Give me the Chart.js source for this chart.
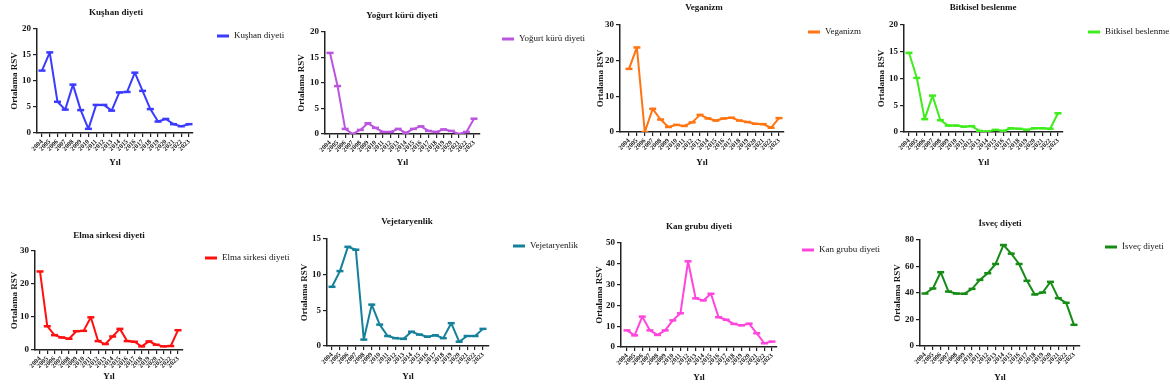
<!DOCTYPE html>
<html>
<head>
<meta charset="utf-8">
<script src="https://cdn.jsdelivr.net/npm/chart.js@4.4.1/dist/chart.umd.min.js"></script>
<style>
  html, body { margin: 0; padding: 0; background: #fff; }
  #wrap { position: relative; width: 1170px; height: 390px; }
  #wrap canvas { position: absolute; left: 0; top: 0; }
</style>
</head>
<body>
<div id="wrap"></div>
<script>
// data
const years = [2004, 2005, 2006, 2007, 2008, 2009, 2010, 2011, 2012, 2013,
               2014, 2015, 2016, 2017, 2018, 2019, 2020, 2021, 2022, 2023];

const kushan     = [12.0, 15.5, 6.0, 4.5, 9.3, 4.4, 0.8, 5.4, 5.4, 4.3, 7.8, 7.9, 11.6, 8.1, 4.6, 2.2, 2.7, 1.7, 1.3, 1.7];
const yogurt     = [15.9, 9.4, 1.0, 0.0, 0.8, 2.1, 1.2, 0.4, 0.4, 1.0, 0.2, 1.0, 1.5, 0.6, 0.4, 0.9, 0.6, 0.0, 0.4, 3.0];
const veganizm   = [17.7, 23.7, 0.0, 6.5, 3.5, 1.4, 2.0, 1.7, 2.7, 4.8, 3.8, 3.2, 3.8, 4.0, 3.2, 2.8, 2.3, 2.2, 1.2, 3.9];
const bitkisel   = [14.8, 10.1, 2.4, 6.8, 2.2, 1.2, 1.2, 1.0, 1.1, 0.2, 0.1, 0.4, 0.2, 0.7, 0.6, 0.4, 0.7, 0.7, 0.6, 3.5];
const elma       = [23.8, 7.2, 4.5, 3.8, 3.4, 5.7, 5.8, 9.9, 2.7, 1.8, 4.1, 6.4, 2.7, 2.5, 1.1, 2.6, 1.6, 1.1, 1.2, 6.0];
const vejetaryen = [8.3, 10.5, 13.9, 13.5, 0.9, 5.8, 3.0, 1.4, 1.1, 1.0, 2.0, 1.6, 1.3, 1.5, 1.1, 3.2, 0.6, 1.4, 1.4, 2.4];
const kanGrubu   = [8.0, 5.6, 14.6, 8.0, 5.8, 8.0, 12.8, 16.2, 41.2, 23.4, 22.4, 25.6, 14.3, 13.1, 11.1, 10.4, 11.2, 6.6, 1.8, 2.6];
const isvec      = [39.6, 43.4, 55.7, 41.1, 39.6, 39.4, 43.1, 49.9, 54.9, 61.9, 76.2, 69.7, 61.9, 49.2, 38.9, 40.4, 48.4, 36.1, 32.6, 16.0];

const seriesNames = ['Kuşhan diyeti', 'Yoğurt kürü diyeti', 'Veganizm', 'Bitkisel beslenme',
                     'Elma sirkesi diyeti', 'Vejetaryenlik', 'Kan grubu diyeti', 'İsveç diyeti'];
const seriesData  = [kushan, yogurt, veganizm, bitkisel, elma, vejetaryen, kanGrubu, isvec];
const yMaxes      = [20, 20, 30, 20, 30, 15, 50, 80];
const ySteps      = [5, 5, 10, 5, 10, 5, 10, 20];
const yTitle = 'Ortalama RSV';
const xTitle = 'Yıl';

// colours
const colors = ['#3b3bff', '#bb55e0', '#ff7410', '#3fec1c', '#ff1010', '#15809a', '#ff45dc', '#168c16'];

// where each panel sits on the page (px)
const layouts = [
  { axisX: 37,  top: 29,  bottom: 133, xFirst: 42,  xLast: 189,  axisEnd: 193,  yTitleX: 15,  yilY: 163, titleX: 116,  titleY: 13,  legX: 217,  legY: 36 },
  { axisX: 325, top: 32,  bottom: 134, xFirst: 330, xLast: 474,  axisEnd: 480,  yTitleX: 302, yilY: 163, titleX: 402,  titleY: 16,  legX: 502,  legY: 39 },
  { axisX: 620, top: 25,  bottom: 132, xFirst: 629, xLast: 779,  axisEnd: 784,  yTitleX: 601, yilY: 163, titleX: 704,  titleY: 8,   legX: 808,  legY: 32 },
  { axisX: 904, top: 25,  bottom: 132, xFirst: 909, xLast: 1058, axisEnd: 1063, yTitleX: 882, yilY: 163, titleX: 983,  titleY: 8,   legX: 1088, legY: 32 },
  { axisX: 35,  top: 251, bottom: 350, xFirst: 40,  xLast: 178,  axisEnd: 183,  yTitleX: 15,  yilY: 377, titleX: 109,  titleY: 236, legX: 205,  legY: 258 },
  { axisX: 327, top: 239, bottom: 346, xFirst: 332, xLast: 483,  axisEnd: 489,  yTitleX: 305, yilY: 377, titleX: 407,  titleY: 222, legX: 513,  legY: 246 },
  { axisX: 621, top: 243, bottom: 347, xFirst: 627, xLast: 772,  axisEnd: 777,  yTitleX: 600, yilY: 378, titleX: 699,  titleY: 227, legX: 802,  legY: 250 },
  { axisX: 920, top: 240, bottom: 346, xFirst: 925, xLast: 1074, axisEnd: 1080, yTitleX: 898, yilY: 378, titleX: 1000, titleY: 224, legX: 1105, legY: 247 }
];

const W = 1170, H = 390;
const FONT = '"Liberation Serif", "Times New Roman", serif';
const INK = '#151515';

// panel title + legend drawn at fixed spots
const panelText = {
  id: 'panelText',
  afterDraw(chart, args, o) {
    const ctx = chart.ctx;
    ctx.save();
    ctx.fillStyle = INK;
    ctx.textBaseline = 'middle';
    ctx.font = 'bold 9px ' + FONT;
    ctx.textAlign = 'center';
    ctx.fillText(o.title, o.titleX, o.titleY);
    ctx.strokeStyle = o.color;
    ctx.lineWidth = 3;
    ctx.beginPath();
    ctx.moveTo(o.legX, o.legY);
    ctx.lineTo(o.legX + 12, o.legY);
    ctx.stroke();
    ctx.font = '9px ' + FONT;
    ctx.textAlign = 'left';
    ctx.fillText(o.title, o.legX + 17, o.legY);
    ctx.restore();
  }
};

const wrap = document.getElementById('wrap');

seriesNames.forEach((name, i) => {
  const L = layouts[i];
  const step = (L.xLast - L.xFirst) / (years.length - 1);
  const yW = L.axisX - L.yTitleX + 3 + 5.4;
  const xH = L.yilY - L.bottom + 5.4;

  const canvas = document.createElement('canvas');
  canvas.width = W;
  canvas.height = H;
  wrap.appendChild(canvas);

  new Chart(canvas.getContext('2d'), {
    type: 'line',
    data: {
      datasets: [{
        label: name,
        data: years.map((yr, k) => ({ x: yr, y: seriesData[i][k] })),
        borderColor: colors[i],
        backgroundColor: colors[i],
        borderWidth: 2,
        borderJoinStyle: 'round',
        pointStyle: 'line',
        pointRadius: 3.5,
        pointBorderWidth: 2.5,
        pointBorderColor: colors[i],
        tension: 0
      }]
    },
    options: {
      responsive: false,
      animation: false,
      devicePixelRatio: 1,
      layout: {
        padding: { left: L.axisX - yW, top: L.top, right: W - L.axisEnd, bottom: H - L.bottom - xH }
      },
      plugins: {
        legend: { display: false },
        tooltip: { enabled: false },
        panelText: { title: name, color: colors[i], titleX: L.titleX, titleY: L.titleY, legX: L.legX, legY: L.legY }
      },
      scales: {
        x: {
          type: 'linear',
          min: years[0] - (L.xFirst - L.axisX) / step,
          max: years[years.length - 1] + (L.axisEnd - L.xLast) / step,
          afterBuildTicks: s => { s.ticks = years.map(v => ({ value: v })); },
          afterFit: s => { s.height = xH; },
          ticks: {
            autoSkip: false, minRotation: 45, maxRotation: 45, padding: 1,
            color: INK, font: { family: FONT, size: 6.5, weight: 'bold' },
            callback: v => String(v)
          },
          grid: { drawOnChartArea: false, drawTicks: true, tickLength: 4, color: '#222', lineWidth: 1.2 },
          border: { color: '#222', width: 1.5 },
          title: { display: true, text: xTitle, color: INK, padding: { top: 0, bottom: 0 },
                   font: { family: FONT, size: 9, weight: 'bold' } }
        },
        y: {
          min: 0,
          max: yMaxes[i],
          afterFit: s => { s.width = yW; },
          ticks: { stepSize: ySteps[i], padding: 2, color: INK, font: { family: FONT, size: 9, weight: 'bold' } },
          grid: { drawOnChartArea: false, drawTicks: true, tickLength: 4, color: '#222', lineWidth: 1.2 },
          border: { color: '#222', width: 1.5 },
          title: { display: true, text: yTitle, color: INK, padding: { top: 3, bottom: 0 },
                   font: { family: FONT, size: 9, weight: 'bold' } }
        }
      }
    },
    plugins: [panelText]
  });
});
</script>
</body>
</html>
